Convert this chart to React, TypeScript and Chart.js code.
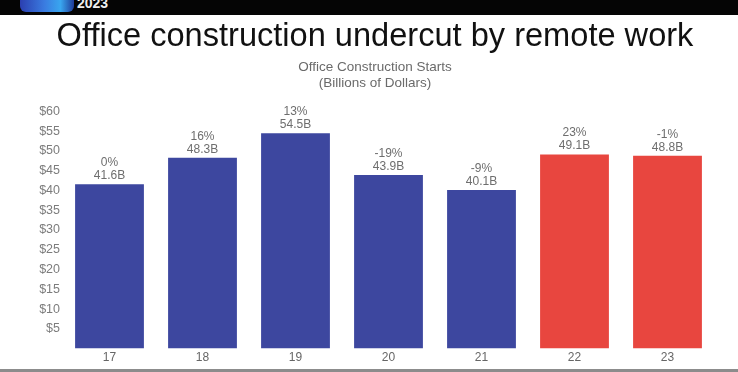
import React, { useEffect, useRef } from "react";
import { Chart, registerables } from "chart.js";

Chart.register(...registerables);

const categories = ["17", "18", "19", "20", "21", "22", "23"];
const startsBillions = [41.6, 48.3, 54.5, 43.9, 40.1, 49.1, 48.8];
const changeLabels = ["0%", "16%", "13%", "-19%", "-9%", "23%", "-1%"];
const valueLabels = ["41.6B", "48.3B", "54.5B", "43.9B", "40.1B", "49.1B", "48.8B"];
const barColors = ["#3d479f", "#3d479f", "#3d479f", "#3d479f", "#3d479f", "#e8463f", "#e8463f"];
const yTickValues = [5, 10, 15, 20, 25, 30, 35, 40, 45, 50, 55, 60];

const FONT = "'Liberation Sans', Arial, Helvetica, sans-serif";

const barLabelPlugin = {
  id: "barLabels",
  afterDatasetsDraw(chart: any) {
    const ctx = chart.ctx;
    const meta = chart.getDatasetMeta(0);
    ctx.save();
    ctx.font = `12px ${FONT}`;
    ctx.fillStyle = "#6e6e6e";
    ctx.textAlign = "center";
    ctx.textBaseline = "middle";
    meta.data.forEach((bar: any, i: number) => {
      ctx.fillText(valueLabels[i], bar.x, bar.y - 8.5);
      ctx.fillText(changeLabels[i], bar.x, bar.y - 21.5);
    });
    ctx.restore();
  },
};

export default function App() {
  const canvasRef = useRef<HTMLCanvasElement | null>(null);

  useEffect(() => {
    if (!canvasRef.current) return;
    const chart = new Chart(canvasRef.current, {
      type: "bar",
      data: {
        labels: categories,
        datasets: [
          {
            data: startsBillions,
            backgroundColor: barColors,
            borderWidth: 0,
            barPercentage: 0.74,
            categoryPercentage: 1,
          },
        ],
      },
      options: {
        animation: false,
        responsive: false,
        maintainAspectRatio: false,
        layout: { padding: { top: 15, left: 36, right: 24, bottom: 5 } },
        plugins: {
          legend: { display: false },
          tooltip: { enabled: false },
          title: {
            display: true,
            text: "Office construction undercut by remote work",
            color: "#111111",
            font: { family: FONT, size: 32.6, weight: "normal", lineHeight: 1.2 },
            padding: { top: 2, bottom: 0 },
          },
          subtitle: {
            display: true,
            text: ["Office Construction Starts", "(Billions of Dollars)"],
            color: "#6a6a6a",
            font: { family: FONT, size: 13.5, weight: "normal", lineHeight: 1.19 },
            padding: { top: 3, bottom: 20.2 },
          },
        },
        scales: {
          x: {
            grid: { display: false, drawTicks: false },
            border: { display: false },
            ticks: {
              color: "#666666",
              font: { family: FONT, size: 12 },
              padding: 2,
            },
          },
          y: {
            min: 0,
            max: 60,
            grid: { display: false, drawTicks: false },
            border: { display: false },
            afterFit(scale: any) {
              scale.width = 27;
            },
            afterBuildTicks(scale: any) {
              scale.ticks = yTickValues.map((v) => ({ value: v }));
            },
            ticks: {
              color: "#7c7c7c",
              font: { family: FONT, size: 12.5 },
              padding: 3,
              callback: (v: any) => `$${v}`,
            },
          },
        },
      },
      plugins: [barLabelPlugin],
    });
    return () => chart.destroy();
  }, []);

  return (
    <div
      style={{
        position: "absolute",
        left: 0,
        top: 0,
        width: 738,
        height: 372,
        background: "#ffffff",
        overflow: "hidden",
      }}
    >
      <canvas ref={canvasRef} width={738} height={372} style={{ position: "absolute", left: 0, top: 0 }} />
      <div
        style={{
          position: "absolute",
          left: 0,
          top: 0,
          width: 738,
          height: 15,
          background: "#050505",
          overflow: "hidden",
        }}
      >
        <div
          style={{
            position: "absolute",
            left: 20,
            top: -6,
            width: 54,
            height: 18,
            borderRadius: 6,
            background: "linear-gradient(90deg, #2b3fb0 0%, #3a7be0 45%, #39a6ef 75%, #1f3c9a 100%)",
          }}
        />
        <div
          style={{
            position: "absolute",
            left: 77,
            top: -5,
            color: "#f0f0f0",
            fontFamily: FONT,
            fontWeight: "bold",
            fontSize: 14,
          }}
        >
          2023
        </div>
      </div>
      <div
        style={{
          position: "absolute",
          left: 0,
          top: 369,
          width: 738,
          height: 3,
          background: "#8c8c8c",
        }}
      />
    </div>
  );
}
